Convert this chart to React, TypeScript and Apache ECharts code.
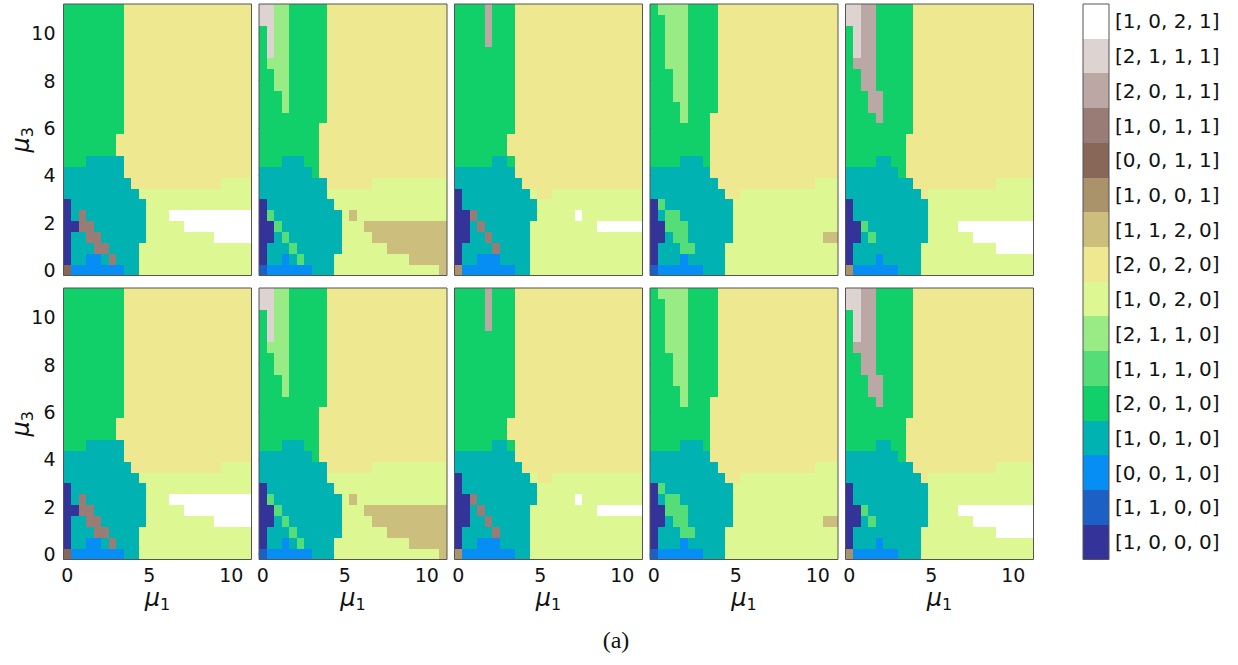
import React, { useEffect, useRef } from "react";
import * as echarts from "echarts";

// grid values of mu1 / mu3 (25 points from 0 to 11)
const MU = [
  0, 0.4583, 0.9167, 1.375, 1.8333, 2.2917, 2.75, 3.2083, 3.6667, 4.125, 4.5833, 5.0417, 5.5,
  5.9583, 6.4167, 6.875, 7.3333, 7.7917, 8.25, 8.7083, 9.1667, 9.625, 10.0833, 10.5417, 11,
];
const AXIS_MIN = -0.2292;
const AXIS_MAX = 11.2292;
const X_TICKS = [0, 5, 10];
const Y_TICKS = [0, 2, 4, 6, 8, 10];

// phase labels (colour-bar order, bottom to top) and their colours (terrain, 16 levels)
const PHASE_LABELS = [
  "[1, 0, 0, 0]", "[1, 1, 0, 0]", "[0, 0, 1, 0]", "[1, 0, 1, 0]",
  "[2, 0, 1, 0]", "[1, 1, 1, 0]", "[2, 1, 1, 0]", "[1, 0, 2, 0]",
  "[2, 0, 2, 0]", "[1, 1, 2, 0]", "[1, 0, 0, 1]", "[0, 0, 1, 1]",
  "[1, 0, 1, 1]", "[2, 0, 1, 1]", "[2, 1, 1, 1]", "[1, 0, 2, 1]",
];
const PHASE_COLORS = [
  "#333399", "#1c60c6", "#068ef4", "#00b2b2",
  "#11cf69", "#55dd77", "#99eb85", "#ddf892",
  "#eee990", "#ccbe7d", "#aa926b", "#886759",
  "#997c76", "#bba8a4", "#ddd3d1", "#ffffff",
];

// phase index per cell (hex digit = index into PHASE_LABELS); rows listed from mu3 = 11 (top) down to mu3 = 0
const PANEL_1 = [
  "4444444488888888888888888",
  "4444444488888888888888888",
  "4444444488888888888888888",
  "4444444488888888888888888",
  "4444444488888888888888888",
  "4444444488888888888888888",
  "4444444488888888888888888",
  "4444444488888888888888888",
  "4444444488888888888888888",
  "4444444488888888888888888",
  "4444444488888888888888888",
  "4444444488888888888888888",
  "4444444888888888888888888",
  "4444444888888888888888888",
  "4443333388888888888888888",
  "3333333388888888888888888",
  "3333333338888888888887777",
  "3333333333777777777777777",
  "0333333333377777777777777",
  "03c33333333777fffffffffff",
  "00cc333333377777fffffffff",
  "033cc333333777777777fffff",
  "0333cc3333777777777777777",
  "033223c333777777777777777",
  "b222222233777777777777777",
];
const PANEL_2 = [
  "ee66444448888888888888888",
  "ee66444448888888888888888",
  "4e66444448888888888888888",
  "4e66444448888888888888888",
  "4e66444448888888888888888",
  "4666444448888888888888888",
  "4466444448888888888888888",
  "4466444448888888888888888",
  "4446444448888888888888888",
  "4446444448888888888888888",
  "4444444448888888888888888",
  "4444444488888888888888888",
  "4444444488888888888888888",
  "4444444488888888888888888",
  "4443334488888888888888888",
  "3333333488888888888888888",
  "3333333338888887777777777",
  "3333333337777777777777777",
  "0333333333777777777777777",
  "0533333333379777777777777",
  "0053333333377799999999999",
  "0035333333377779999999999",
  "0333533333377777799999999",
  "0332353333777777777799999",
  "1222222333777777777777779",
];
const PANEL_3 = [
  "4444d44488888888888888888",
  "4444d44488888888888888888",
  "4444d44488888888888888888",
  "4444d44488888888888888888",
  "4444444488888888888888888",
  "4444444488888888888888888",
  "4444444488888888888888888",
  "4444444488888888888888888",
  "4444444488888888888888888",
  "4444444488888888888888888",
  "4444444488888888888888888",
  "4444444488888888888888888",
  "4444444888888888888888888",
  "4444444888888888888888888",
  "4444433488888888888888888",
  "3333333388888888888888888",
  "3333333338888888888888888",
  "0333333333788777777777777",
  "0333333333377777777777777",
  "00c3333333377777f77777777",
  "003c333333777777777ffffff",
  "0033c33333777777777777777",
  "03333c3333777777777777777",
  "0332223333777777777777777",
  "a222222233777777777777777",
];
const PANEL_4 = [
  "4666644448888888888888888",
  "4466644448888888888888888",
  "4466644448888888888888888",
  "4466644448888888888888888",
  "4466644448888888888888888",
  "4466644448888888888888888",
  "4446644448888888888888888",
  "4446644448888888888888888",
  "4446644448888888888888888",
  "4444644448888888888888888",
  "4444644488888888888888888",
  "4444444488888888888888888",
  "4444444488888888888888888",
  "4444444488888888888888888",
  "4444333488888888888888888",
  "3333333388888888888888888",
  "3333333338888888888888777",
  "3333333333887777777777777",
  "0533333333377777777777777",
  "0355333333377777777777777",
  "0055533333377777777777777",
  "0035533333377777777777799",
  "0333553333777777777777777",
  "0333233333777777777777777",
  "1222222333777777777777777",
];
const PANEL_5 = [
  "eedd444448888888888888888",
  "eedd444448888888888888888",
  "4edd444448888888888888888",
  "4edd444448888888888888888",
  "4edd444448888888888888888",
  "4ddd444448888888888888888",
  "44dd444448888888888888888",
  "44dd444448888888888888888",
  "444dd44448888888888888888",
  "444dd44448888888888888888",
  "4444d44448888888888888888",
  "4444444448888888888888888",
  "4444444488888888888888888",
  "4444444488888888888888888",
  "4444334488888888888888888",
  "3333333488888888888888888",
  "3333333338888888888877777",
  "3333333333877777777777777",
  "0333333333377777777777777",
  "0333333333377777777777777",
  "005333333337777ffffffffff",
  "00353333333777777ffffffff",
  "03333333337777777777fffff",
  "0333233333777777777777777",
  "a222222333777777777777777",
];

// top row and bottom row of the reference show the same maps
const PANELS_TOP = [PANEL_1, PANEL_2, PANEL_3, PANEL_4, PANEL_5];
const PANELS_BOTTOM = [PANEL_1, PANEL_2, PANEL_3, PANEL_4, PANEL_5];

// layout
const COL_LEFT = [63.5, 259, 454.5, 650, 845.5];
const COL_WIDTH = 188;
const ROW_TOP = [4, 288];
const ROW_HEIGHT = 271.5;
const CB_LEFT = 1083;
const CB_WIDTH = 26;
const FONT = "DejaVu Sans";
const TEXT_COLOR = "#111";
const FRAME_COLOR = "#555";

const muName = (sub: string) => `{m|μ}{s|${sub}}`;
const muRich = {
  m: { fontSize: 24, fontStyle: "italic", fontFamily: FONT, color: TEXT_COLOR, lineHeight: 30 },
  s: { fontSize: 16, fontFamily: FONT, color: TEXT_COLOR, lineHeight: 16, verticalAlign: "bottom" },
};

function buildOption() {
  const EDGES: number[] = [AXIS_MIN];
  for (let i = 1; i < MU.length; i++) EDGES.push((MU[i - 1] + MU[i]) / 2);
  EDGES.push(AXIS_MAX);

  const grid: any[] = [];
  const xAxis: any[] = [];
  const yAxis: any[] = [];
  const series: any[] = [];

  const rows = [PANELS_TOP, PANELS_BOTTOM];
  rows.forEach((panels, r) => {
    panels.forEach((panel, c) => {
      const k = grid.length;
      grid.push({
        left: COL_LEFT[c], top: ROW_TOP[r], width: COL_WIDTH, height: ROW_HEIGHT,
        show: true, backgroundColor: "transparent", borderColor: FRAME_COLOR, borderWidth: 1,
        z: 10, containLabel: false, outerBoundsMode: "none",
      });
      xAxis.push({
        type: "value", gridIndex: k, min: AXIS_MIN, max: AXIS_MAX,
        axisLine: { show: false }, splitLine: { show: false },
        axisTick: { show: true, length: 4, customValues: X_TICKS, lineStyle: { color: "#444", width: 1 } },
        axisLabel: {
          show: r === 1, customValues: X_TICKS, fontSize: 19, fontFamily: FONT, color: TEXT_COLOR, margin: 6,
        },
        name: r === 1 ? muName("1") : "", nameLocation: "middle", nameGap: 23, nameMoveOverlap: false,
        nameTextStyle: { rich: muRich },
      });
      yAxis.push({
        type: "value", gridIndex: k, min: AXIS_MIN, max: AXIS_MAX,
        axisLine: { show: false }, splitLine: { show: false },
        axisTick: { show: true, length: 4, customValues: Y_TICKS, lineStyle: { color: "#444", width: 1 } },
        axisLabel: {
          show: c === 0, customValues: Y_TICKS, fontSize: 19, fontFamily: FONT, color: TEXT_COLOR, margin: 8,
        },
        name: c === 0 ? muName("3") : "", nameLocation: "middle", nameGap: 28, nameMoveOverlap: false,
        nameTextStyle: { rich: muRich },
      });
      const data: number[][] = [];
      const n = panel.length;
      for (let rowIdx = 0; rowIdx < n; rowIdx++) {
        const iy = n - 1 - rowIdx;
        const line = panel[rowIdx];
        for (let ix = 0; ix < line.length; ix++) {
          data.push([MU[ix], MU[iy], parseInt(line[ix], 16), ix, iy]);
        }
      }
      series.push({
        type: "custom", coordinateSystem: "cartesian2d", xAxisIndex: k, yAxisIndex: k,
        silent: true, clip: true, encode: { x: 0, y: 1 },
        renderItem: (_p: any, api: any) => {
          const ix = api.value(3);
          const iy = api.value(4);
          const a = api.coord([EDGES[ix], EDGES[iy + 1]]);
          const b = api.coord([EDGES[ix + 1], EDGES[iy]]);
          const l = Math.round(a[0]);
          const t = Math.round(a[1]);
          const rr = Math.round(b[0]);
          const bb = Math.round(b[1]);
          return {
            type: "rect",
            shape: { x: l, y: t, width: rr - l, height: bb - t },
            style: { fill: PHASE_COLORS[api.value(2)], stroke: null },
          };
        },
        data,
      });
    });
  });

  // colour bar
  const cb = grid.length;
  grid.push({
    left: CB_LEFT, top: ROW_TOP[0], width: CB_WIDTH, height: ROW_TOP[1] + ROW_HEIGHT - ROW_TOP[0],
    show: true, backgroundColor: "transparent", borderColor: FRAME_COLOR, borderWidth: 1,
    z: 10, containLabel: false, outerBoundsMode: "none",
  });
  xAxis.push({ type: "value", gridIndex: cb, min: 0, max: 1, show: false });
  yAxis.push({
    type: "category", gridIndex: cb, data: PHASE_LABELS, position: "right",
    axisLine: { show: false }, splitLine: { show: false },
    axisTick: { show: true, alignWithLabel: true, length: 4, lineStyle: { color: "#444", width: 1 } },
    axisLabel: { fontSize: 20, fontFamily: FONT, color: TEXT_COLOR, margin: 6 },
  });
  series.push({
    type: "custom", coordinateSystem: "cartesian2d", xAxisIndex: cb, yAxisIndex: cb,
    silent: true, encode: { x: 0, y: 1 },
    renderItem: (_p: any, api: any) => {
      const p = api.coord([0, api.value(1)]);
      const s = api.size([1, 1]);
      const t = Math.round(p[1] - s[1] / 2);
      const b = Math.round(p[1] + s[1] / 2);
      const l = Math.round(p[0]);
      const r = Math.round(p[0] + s[0]);
      return {
        type: "rect",
        shape: { x: l, y: t, width: r - l, height: b - t },
        style: { fill: PHASE_COLORS[api.value(2)], stroke: null },
      };
    },
    data: PHASE_LABELS.map((_, i) => [0, i, i]),
  });

  return {
    animation: false,
    backgroundColor: "#ffffff",
    grid, xAxis, yAxis, series,
    graphic: [
      {
        type: "text", x: 616, y: 640,
        style: {
          text: "(a)", fontSize: 24, fontFamily: "Liberation Serif", fill: TEXT_COLOR,
          align: "center", verticalAlign: "middle",
        },
      },
    ],
  };
}

export default function App() {
  const ref = useRef<HTMLDivElement | null>(null);
  useEffect(() => {
    if (!ref.current) return;
    const chart = echarts.init(ref.current, null, { renderer: "svg" });
    chart.setOption(buildOption() as any);
    return () => chart.dispose();
  }, []);
  return (
    <div
      ref={ref}
      style={{ position: "absolute", left: 0, top: 0, width: 1238, height: 665, background: "#fff" }}
    />
  );
}
